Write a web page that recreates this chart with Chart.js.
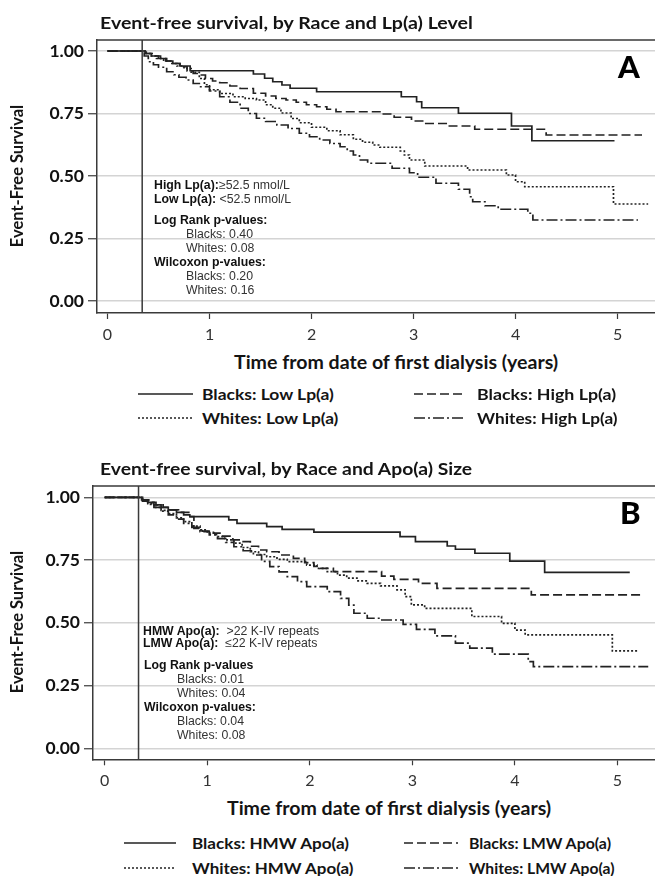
<!DOCTYPE html>
<html><head><meta charset="utf-8">
<script src="https://cdn.jsdelivr.net/npm/chart.js@4/dist/chart.umd.min.js"></script>
<style>
html,body{margin:0;padding:0;background:#fff;}
body{width:655px;height:876px;overflow:hidden;position:relative;}
canvas{position:absolute;left:0;}
.t{position:absolute;white-space:nowrap;line-height:1;transform:translateY(-50%);transform-origin:0 50%;color:#141414;}
.hd{font-family:Lato,"Open Sans",sans-serif;font-weight:700;}
.an{font-family:"Liberation Sans",Arial,sans-serif;font-size:12.3px;color:#333;}
.an b{color:#111;}
.big{font-family:Lato,sans-serif;font-weight:900;font-size:31px;color:#000;}
.yt{position:absolute;white-space:nowrap;line-height:1;font-family:Lato,sans-serif;font-weight:700;font-size:16.5px;color:#141414;transform:translate(-50%,-50%) rotate(-90deg);}
</style></head>
<body>
<canvas id="ca" width="655" height="345" style="top:0"></canvas>
<canvas id="cb" width="655" height="345" style="top:446px"></canvas>

<div class="t hd fit" data-w="373" style="left:100px;top:23px;font-size:17.5px">Event-free survival, by Race and Lp(a) Level</div>
<div class="t hd fit" data-w="372" style="left:100px;top:469px;font-size:17.5px">Event-free survival, by Race and Apo(a) Size</div>
<div class="t big" style="left:618px;top:66px">A</div>
<div class="t big" style="left:620px;top:512px">B</div>
<div class="yt" style="left:17px;top:176px">Event-Free Survival</div>
<div class="yt" style="left:17px;top:622px">Event-Free Survival</div>
<div class="t hd fit" data-w="324" data-cx="396" style="left:234px;top:362px;font-size:19.5px">Time from date of first dialysis (years)</div>
<div class="t hd fit" data-w="324" data-cx="389" style="left:227px;top:808px;font-size:19.5px">Time from date of first dialysis (years)</div>

<div class="t an" style="left:154px;top:185px"><b>High Lp(a):</b>≥52.5 nmol/L</div>
<div class="t an" style="left:154px;top:199px"><b>Low Lp(a):</b> &lt;52.5 nmol/L</div>
<div class="t an" style="left:154px;top:220px"><b>Log Rank p-values:</b></div>
<div class="t an" style="left:186px;top:234px">Blacks: 0.40</div>
<div class="t an" style="left:186px;top:248px">Whites: 0.08</div>
<div class="t an" style="left:154px;top:262px"><b>Wilcoxon p-values:</b></div>
<div class="t an" style="left:186px;top:276px">Blacks: 0.20</div>
<div class="t an" style="left:186px;top:290px">Whites: 0.16</div>

<div class="t an" style="left:143px;top:631px"><b>HMW Apo(a):</b>&nbsp; &gt;22 K-IV repeats</div>
<div class="t an" style="left:143px;top:643px"><b>LMW Apo(a):</b>&nbsp; ≤22 K-IV repeats</div>
<div class="t an" style="left:144px;top:665px"><b>Log Rank p-values</b></div>
<div class="t an" style="left:177px;top:679px">Blacks: 0.01</div>
<div class="t an" style="left:177px;top:693px">Whites: 0.04</div>
<div class="t an" style="left:144px;top:707px"><b>Wilcoxon p-values:</b></div>
<div class="t an" style="left:177px;top:721px">Blacks: 0.04</div>
<div class="t an" style="left:177px;top:735px">Whites: 0.08</div>

<div id="legends"></div>

<script>
// ---------- tick labels / constants ----------
const xTicks = [0, 1, 2, 3, 4, 5];
const yTicks = [0, 0.25, 0.5, 0.75, 1];
const refLineYearA = 0.34;
const refLineYearB = 0.33;

// ---------- Panel A: by Race and Lp(a) level ----------
const aLabels = ['Blacks: Low Lp(a)', 'Blacks: High Lp(a)', 'Whites: Low Lp(a)', 'Whites: High Lp(a)'];

const aBlacksLowT = [0, 0.34, 0.37, 0.43, 0.50, 0.57, 0.64, 0.71, 0.81, 1.43, 1.54, 1.62, 1.71, 1.79, 2.05, 2.88, 3.03, 3.08, 3.44, 3.96, 4.16, 4.97];
const aBlacksLowS = [1, 1, 0.99, 0.98, 0.97, 0.96, 0.95, 0.94, 0.921, 0.908, 0.891, 0.877, 0.864, 0.851, 0.837, 0.817, 0.797, 0.773, 0.751, 0.70, 0.641, 0.641];

const aBlacksHighT = [0, 0.34, 0.38, 0.45, 0.52, 0.58, 0.64, 0.71, 0.78, 0.84, 0.90, 0.96, 1.03, 1.10, 1.20, 1.30, 1.43, 1.55, 1.65, 1.75, 1.85, 1.95, 2.05, 2.15, 2.24, 2.68, 2.81, 2.98, 3.12, 3.32, 3.60, 4.30, 5.24];
const aBlacksHighS = [1, 1, 0.99, 0.98, 0.97, 0.96, 0.95, 0.937, 0.92, 0.91, 0.904, 0.89, 0.88, 0.873, 0.86, 0.85, 0.831, 0.82, 0.81, 0.804, 0.795, 0.785, 0.777, 0.767, 0.757, 0.748, 0.735, 0.72, 0.71, 0.70, 0.687, 0.664, 0.664];

const aWhitesLowT = [0, 0.34, 0.37, 0.42, 0.48, 0.55, 0.62, 0.68, 0.75, 0.82, 0.90, 0.95, 1.00, 1.10, 1.23, 1.35, 1.46, 1.55, 1.62, 1.70, 1.80, 1.88, 2.00, 2.15, 2.28, 2.41, 2.50, 2.60, 2.67, 2.87, 2.91, 2.96, 3.11, 3.53, 3.91, 4.00, 4.09, 4.96, 5.30];
const aWhitesLowS = [1, 1, 0.99, 0.98, 0.97, 0.96, 0.95, 0.94, 0.93, 0.915, 0.89, 0.865, 0.845, 0.83, 0.817, 0.81, 0.804, 0.785, 0.771, 0.752, 0.73, 0.713, 0.695, 0.681, 0.665, 0.647, 0.635, 0.624, 0.615, 0.60, 0.584, 0.564, 0.54, 0.524, 0.504, 0.477, 0.457, 0.388, 0.388];

const aWhitesHighT = [0, 0.34, 0.36, 0.40, 0.45, 0.50, 0.58, 0.65, 0.70, 0.77, 0.84, 0.90, 1.00, 1.10, 1.20, 1.30, 1.38, 1.46, 1.55, 1.66, 1.77, 1.88, 1.98, 2.08, 2.18, 2.28, 2.35, 2.41, 2.47, 2.55, 2.79, 2.96, 3.04, 3.22, 3.44, 3.55, 3.58, 3.70, 3.83, 4.12, 4.17, 5.20];
const aWhitesHighS = [1, 1, 0.98, 0.957, 0.945, 0.935, 0.917, 0.905, 0.895, 0.884, 0.87, 0.857, 0.84, 0.817, 0.795, 0.771, 0.75, 0.731, 0.718, 0.704, 0.69, 0.671, 0.657, 0.644, 0.63, 0.617, 0.60, 0.584, 0.564, 0.551, 0.531, 0.513, 0.495, 0.471, 0.447, 0.417, 0.397, 0.381, 0.367, 0.351, 0.324, 0.324];

// ---------- Panel B: by Race and Apo(a) size ----------
const bLabels = ['Blacks: HMW Apo(a)', 'Blacks: LMW Apo(a)', 'Whites: HMW Apo(a)', 'Whites: LMW Apo(a)'];

const bBlacksHmwT = [0, 0.33, 0.36, 0.42, 0.48, 0.55, 0.62, 0.70, 0.77, 0.83, 1.21, 1.29, 1.58, 1.73, 2.04, 2.88, 3.03, 3.34, 3.42, 3.61, 3.95, 4.29, 5.12];
const bBlacksHmwS = [1, 1, 0.99, 0.98, 0.97, 0.96, 0.95, 0.94, 0.93, 0.923, 0.91, 0.896, 0.883, 0.872, 0.861, 0.843, 0.823, 0.806, 0.793, 0.777, 0.746, 0.701, 0.701];

const bBlacksLmwT = [0, 0.33, 0.37, 0.43, 0.50, 0.57, 0.64, 0.72, 0.82, 0.87, 0.95, 1.06, 1.15, 1.25, 1.32, 1.42, 1.50, 1.58, 1.70, 1.84, 1.95, 2.04, 2.10, 2.23, 2.70, 2.82, 3.06, 3.24, 4.16, 5.24];
const bBlacksLmwS = [1, 1, 0.99, 0.98, 0.97, 0.96, 0.95, 0.94, 0.923, 0.876, 0.865, 0.857, 0.845, 0.83, 0.823, 0.805, 0.79, 0.783, 0.77, 0.757, 0.74, 0.725, 0.717, 0.704, 0.686, 0.673, 0.657, 0.637, 0.611, 0.611];

const bWhitesHmwT = [0, 0.33, 0.37, 0.42, 0.48, 0.55, 0.62, 0.70, 0.77, 0.85, 0.93, 1.00, 1.09, 1.17, 1.26, 1.34, 1.42, 1.50, 1.58, 1.68, 1.78, 1.97, 2.07, 2.17, 2.27, 2.36, 2.46, 2.56, 2.69, 2.85, 2.93, 2.99, 3.12, 3.58, 3.87, 4.00, 4.10, 4.95, 5.21];
const bWhitesHmwS = [1, 1, 0.985, 0.975, 0.96, 0.948, 0.935, 0.918, 0.903, 0.885, 0.87, 0.857, 0.843, 0.83, 0.817, 0.80, 0.783, 0.772, 0.763, 0.753, 0.744, 0.73, 0.717, 0.704, 0.69, 0.678, 0.667, 0.657, 0.647, 0.631, 0.604, 0.571, 0.557, 0.525, 0.498, 0.471, 0.452, 0.388, 0.388];

const bWhitesLmwT = [0, 0.33, 0.37, 0.42, 0.48, 0.55, 0.62, 0.70, 0.77, 0.85, 0.93, 1.02, 1.10, 1.18, 1.26, 1.35, 1.45, 1.53, 1.61, 1.70, 1.78, 1.88, 1.97, 2.17, 2.30, 2.38, 2.43, 2.56, 2.69, 2.91, 3.04, 3.22, 3.42, 3.56, 3.78, 4.13, 4.18, 5.30];
const bWhitesLmwS = [1, 1, 0.985, 0.972, 0.96, 0.945, 0.93, 0.913, 0.896, 0.88, 0.863, 0.85, 0.835, 0.82, 0.803, 0.787, 0.77, 0.745, 0.724, 0.703, 0.684, 0.664, 0.644, 0.624, 0.597, 0.57, 0.538, 0.518, 0.511, 0.494, 0.474, 0.448, 0.419, 0.399, 0.375, 0.345, 0.325, 0.325];

// ---------- styles ----------
const lineColor = '#222';
const dashStyles = [[], [9, 4], [2, 2], [11, 3, 2, 3]];

function pts(t, s) { return t.map((v, i) => ({ x: v, y: s[i] })); }

const framePlugin = {
  id: 'frame',
  afterDatasetsDraw(chart, args, opts) {
    const { ctx, chartArea: a, scales } = chart;
    ctx.save();
    ctx.strokeStyle = '#3a3a3a';
    ctx.lineWidth = 1.5;
    ctx.beginPath();
    ctx.moveTo(a.left, a.top);
    ctx.lineTo(a.right, a.top);
    const xr = scales.x.getPixelForValue(opts.refYear);
    ctx.moveTo(xr, a.top);
    ctx.lineTo(xr, a.bottom);
    ctx.stroke();
    ctx.restore();
  }
};

function makeChart(id, series, labels, geo, refYear) {
  return new Chart(document.getElementById(id), {
    type: 'line',
    data: {
      datasets: series.map((s, i) => ({
        label: labels[i],
        data: pts(s[0], s[1]),
        stepped: true,
        borderColor: lineColor,
        borderWidth: 1.7,
        borderDash: dashStyles[i],
        pointRadius: 0,
        fill: false
      }))
    },
    options: {
      responsive: false,
      animation: false,
      devicePixelRatio: 1,
      layout: { padding: { top: geo.top, left: 0, right: 0, bottom: 0 } },
      plugins: { legend: { display: false }, tooltip: { enabled: false }, frame: { refYear } },
      scales: {
        x: {
          type: 'linear', min: geo.xmin, max: geo.xmax,
          afterBuildTicks: sc => { sc.ticks = xTicks.map(v => ({ value: v })); },
          afterFit: sc => { sc.height = geo.xh; },
          grid: { drawOnChartArea: false, tickLength: 6, tickColor: '#3a3a3a', tickWidth: 1.2 },
          border: { color: '#3a3a3a', width: 1.5 },
          ticks: { padding: 6, color: '#333', font: { family: 'Lato, sans-serif', size: 16 }, maxRotation: 0 }
        },
        y: {
          type: 'linear', min: geo.ymin, max: geo.ymax,
          afterBuildTicks: sc => { sc.ticks = yTicks.map(v => ({ value: v })); },
          afterFit: sc => { sc.width = geo.yw; },
          grid: { color: '#d4d4d4', lineWidth: 1.5, tickLength: 9, tickColor: '#3a3a3a', tickWidth: 1.2 },
          border: { color: '#3a3a3a', width: 1.5 },
          ticks: { padding: 4, color: '#111', font: { family: 'Lato, sans-serif', size: 17.5, weight: 'bold' }, callback: v => v.toFixed(2) }
        }
      }
    },
    plugins: [framePlugin]
  });
}

makeChart('ca', [[aBlacksLowT, aBlacksLowS], [aBlacksHighT, aBlacksHighS], [aWhitesLowT, aWhitesLowS], [aWhitesHighT, aWhitesHighS]], aLabels,
  { top: 40, xh: 32, yw: 97, xmin: -0.103, xmax: 5.367, ymin: -0.048, ymax: 1.044 }, refLineYearA);
makeChart('cb', [[bBlacksHmwT, bBlacksHmwS], [bBlacksLmwT, bBlacksLmwS], [bWhitesHmwT, bWhitesHmwS], [bWhitesLmwT, bWhitesLmwS]], bLabels,
  { top: 40, xh: 31.7, yw: 93, xmin: -0.114, xmax: 5.366, ymin: -0.044, ymax: 1.045 }, refLineYearB);

// ---------- legends (HTML, from labels + styles) ----------
const legendLayouts = [
  { labels: aLabels, rows: [394, 418], cols: [[138, 55, 202], [414, 52, 477]], widths: [132, 139, 136, 141] },
  { labels: bLabels, rows: [843, 868], cols: [[124, 52, 192], [404, 54, 469]], widths: [157, 142, 161, 145] }
];
const lg = document.getElementById('legends');
legendLayouts.forEach(L => {
  L.labels.forEach((lab, i) => {
    const row = i < 2 ? 0 : 1, col = i % 2;
    const [sx, sw, tx] = L.cols[col];
    const y = L.rows[row];
    const svg = document.createElementNS('http://www.w3.org/2000/svg', 'svg');
    svg.setAttribute('width', sw); svg.setAttribute('height', 6);
    svg.style.cssText = `position:absolute;left:${sx}px;top:${y - 3}px;`;
    const ln = document.createElementNS('http://www.w3.org/2000/svg', 'line');
    ln.setAttribute('x1', 0); ln.setAttribute('x2', sw); ln.setAttribute('y1', 3); ln.setAttribute('y2', 3);
    ln.setAttribute('stroke', lineColor); ln.setAttribute('stroke-width', 1.7);
    if (dashStyles[i].length) ln.setAttribute('stroke-dasharray', dashStyles[i].join(' '));
    svg.appendChild(ln);
    lg.appendChild(svg);
    const d = document.createElement('div');
    d.className = 't hd fit';
    d.dataset.w = L.widths[i];
    d.style.cssText = `left:${tx}px;top:${y}px;font-size:16px;`;
    d.textContent = lab;
    lg.appendChild(d);
  });
});

// fit text widths by a horizontal stretch (the reference figure is horizontally stretched)
document.querySelectorAll('.fit').forEach(el => {
  const target = +el.dataset.w;
  const w = el.offsetWidth;
  const k = target / w;
  el.style.transform = `translateY(-50%) scaleX(${k.toFixed(4)})`;
  if (el.dataset.cx) el.style.left = (+el.dataset.cx - target / 2) + 'px';
});
</script>
</body></html>
